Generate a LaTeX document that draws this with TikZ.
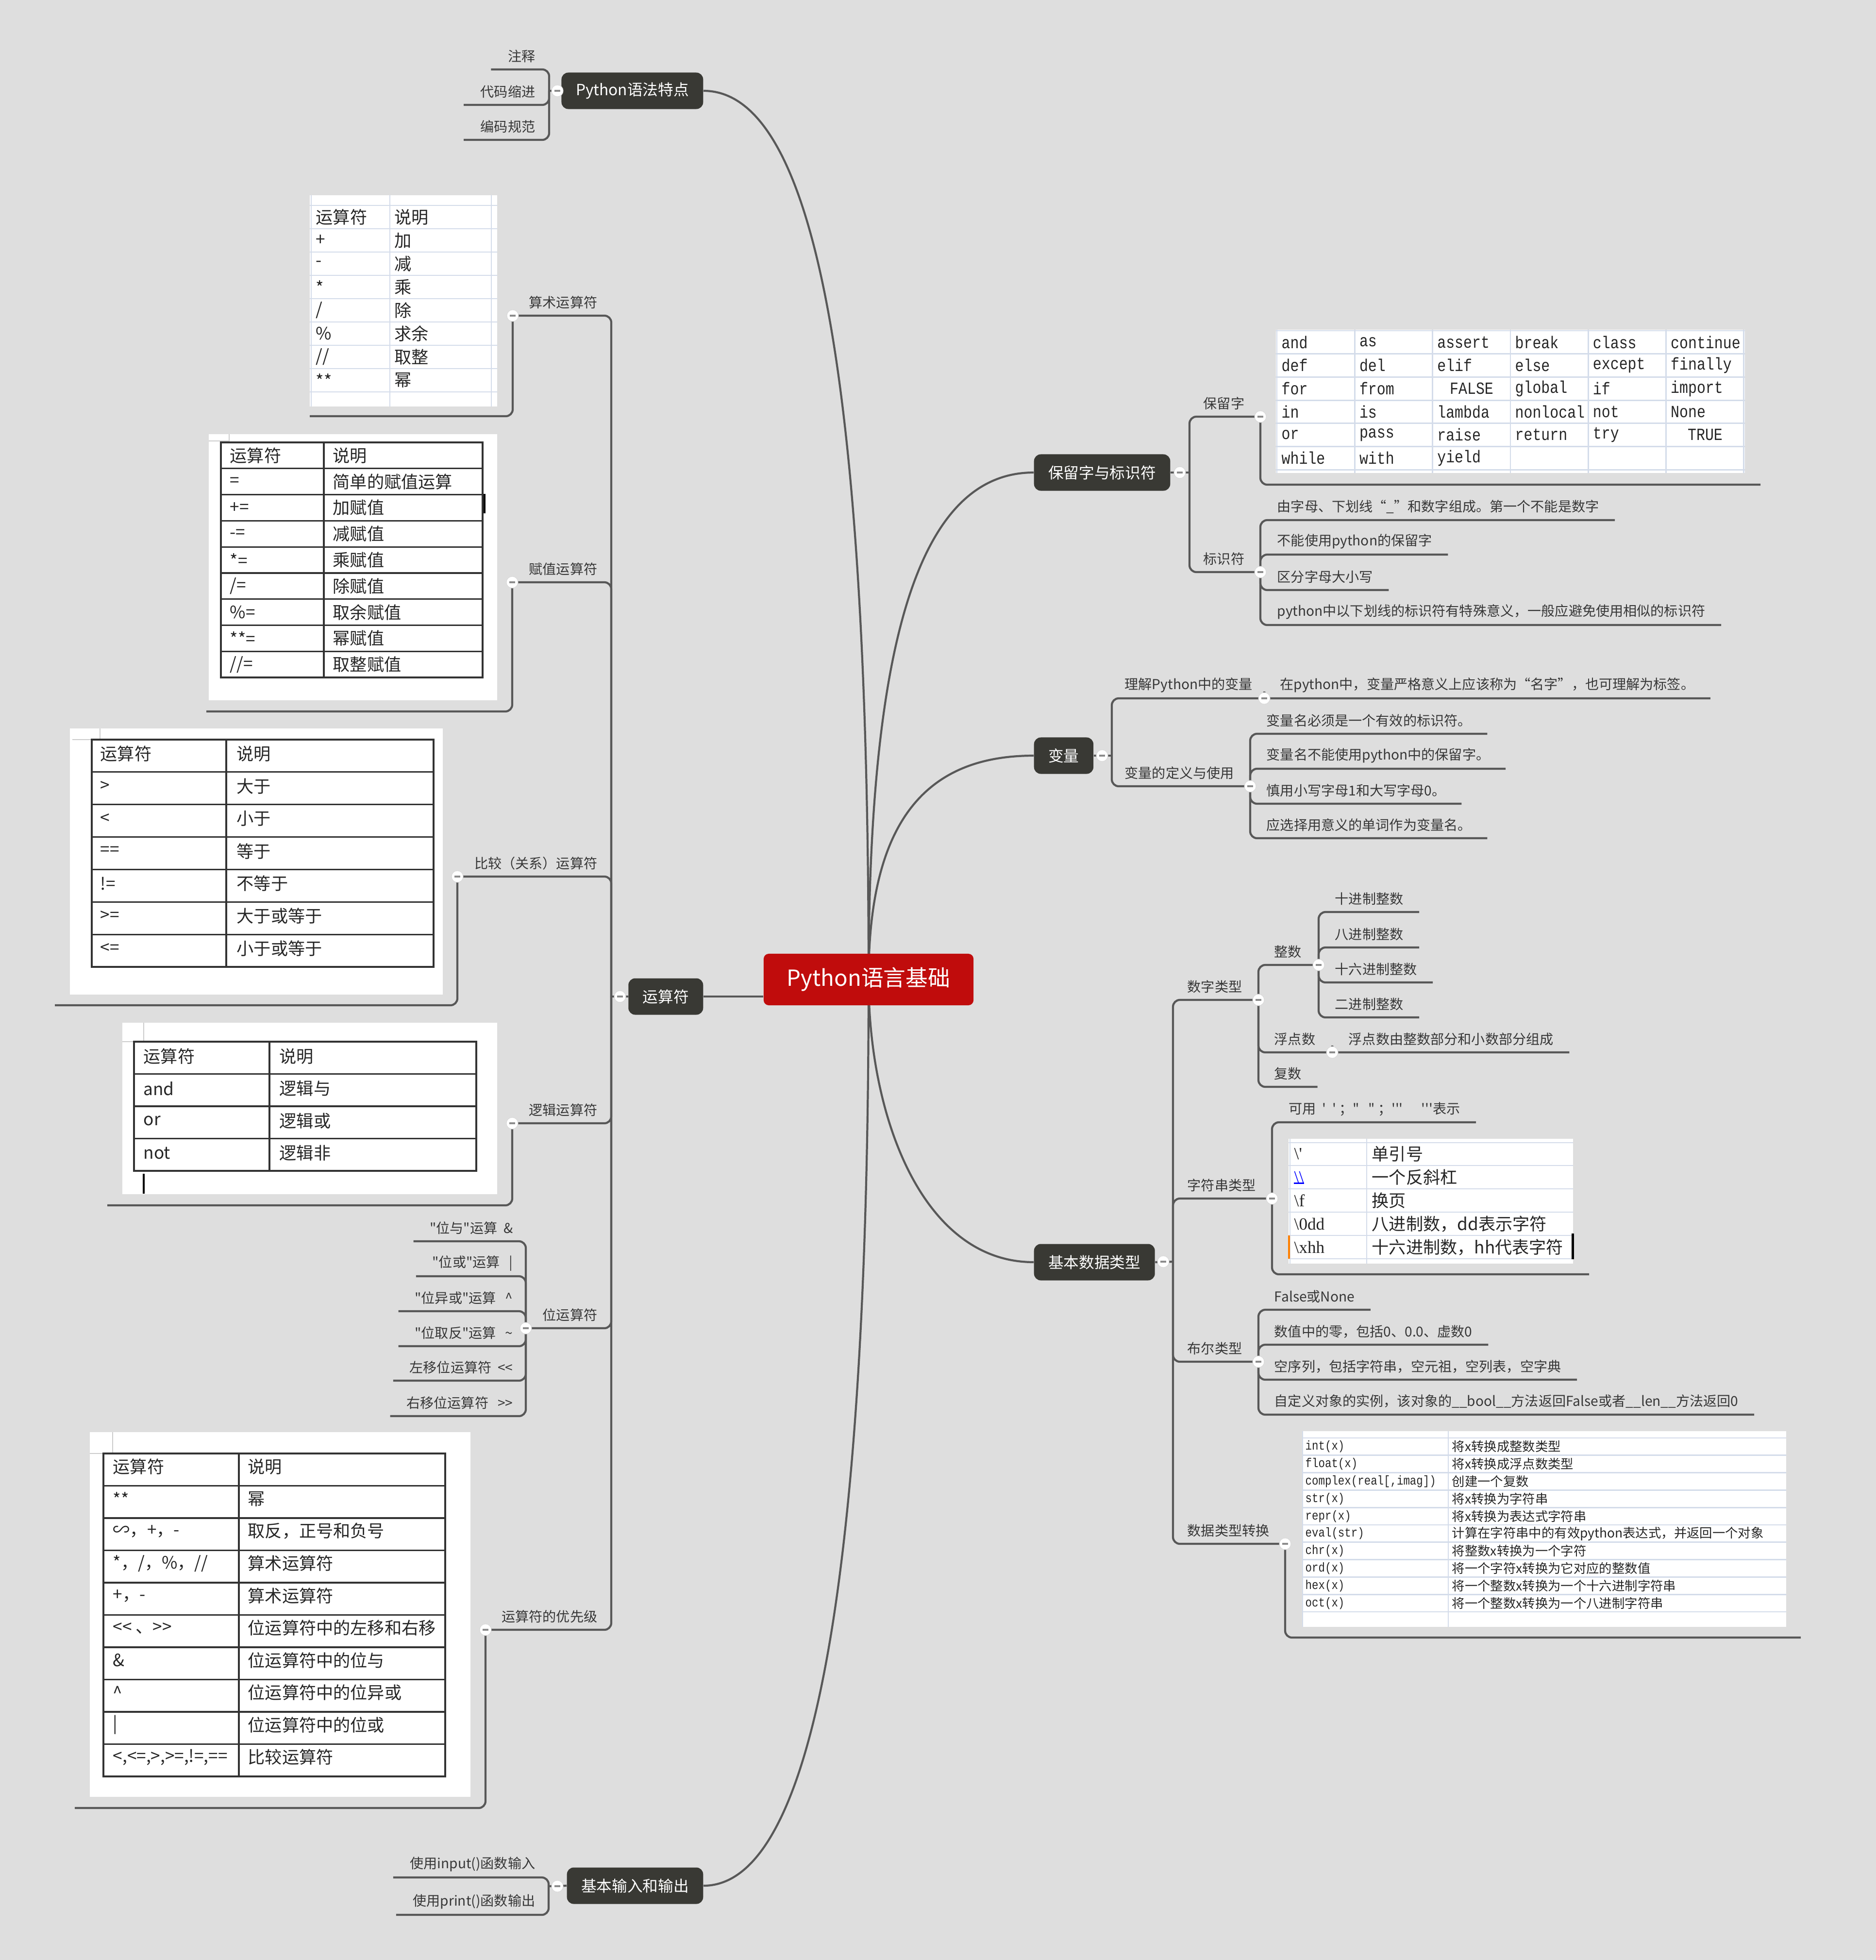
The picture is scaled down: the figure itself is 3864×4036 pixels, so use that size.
\documentclass[tikz,border=0pt]{standalone}
\usepackage{fontspec}
\newfontfamily\cjk{Noto Sans CJK SC}
\newfontfamily\kw[FakeStretch=0.85]{Liberation Mono}
\newfontfamily\sr{Liberation Serif}
\usetikzlibrary{calc}
\definecolor{bgcol}{RGB}{222,222,222}
\definecolor{linecol}{RGB}{88,88,88}
\definecolor{topiccol}{RGB}{57,57,52}
\definecolor{rootcol}{RGB}{192,12,12}
\definecolor{lblcol}{RGB}{55,55,55}
\definecolor{gridcol}{RGB}{212,220,234}
\pgfdeclarelayer{bg}
\pgfdeclarelayer{edges}
\pgfsetlayers{bg,edges,main}

\begin{document}
\begin{tikzpicture}[x=0.01cm,y=-0.01cm,
    br/.style={draw=linecol,line width=1.2pt,rounded corners=4pt},
    root/.style={fill=rootcol,text=white,rounded corners=3pt,minimum width=4.32cm,minimum height=1.06cm,font=\cjk\fontsize{13}{13}\selectfont},
    topic/.style={fill=topiccol,text=white,rounded corners=4pt,minimum height=0.75cm,inner xsep=8.4pt,font=\cjk\fontsize{9}{9}\selectfont},
    lbl/.style={text=lblcol,inner sep=0pt,font=\cjk\fontsize{8}{8}\selectfont},
    knob/.style={circle,fill=white,draw=black!15,line width=0.3pt,minimum size=0.24cm,inner sep=0pt,
      path picture={\draw[black!45,line width=0.9pt] ([xshift=-1.7pt]path picture bounding box.center) -- ([xshift=1.7pt]path picture bounding box.center);}},
    xgrid/.style={draw=gridcol,line width=0.8pt},
    bgrid/.style={draw=black!80,line width=0.9pt},
    cell/.style={anchor=west,inner sep=0pt,text=black!85,font=\cjk\fontsize{10}{10}\selectfont},
    kwcell/.style={anchor=west,inner sep=0pt,text=black!85,font=\kw\fontsize{10}{10}\selectfont},
    tick/.style={draw=black!20,line width=0.6pt},
    caret/.style={draw=black,line width=1.4pt}]
  \useasboundingbox (0,0) rectangle (3864,4036);
  \begin{pgfonlayer}{bg}
    \fill[bgcol] (0,0) rectangle (3864,4036);
  \end{pgfonlayer}

  % main topics
  \node[root] (root) at (1789,2017) {Python语言基础};
  \node[topic,anchor=east] (syntax) at (1449,187) {Python语法特点};
  \node[topic,anchor=east] (oper) at (1449,2052) {运算符};
  \node[topic,anchor=east] (io) at (1449,3883) {基本输入和输出};
  \node[topic,anchor=west] (reserve) at (2129,973) {保留字与标识符};
  \node[topic,anchor=west] (var) at (2129,1556) {变量};
  \node[topic,anchor=west] (dtype) at (2129,2599) {基本数据类型};

  \coordinate (jA) at (1131,187);
  \coordinate (jB) at (1259,2052);
  \coordinate (jC) at (1130,3884);
  \coordinate (jD) at (2450,973);
  \coordinate (jE) at (2290,1556);
  \coordinate (jF) at (2416,2598);

  % Python语法特点
  \node[lbl,anchor=east] (zhushi) at (1103,116) {注释};
  \node[lbl,anchor=east] (suojin) at (1103,189) {代码缩进};
  \node[lbl,anchor=east] (guifan) at (1103,261) {编码规范};

  % 运算符
  \node[lbl,anchor=east] (l-arith) at (1231,623) {算术运算符};
  \node[lbl,anchor=east] (l-assign) at (1231,1172) {赋值运算符};
  \node[lbl,anchor=east] (l-cmp) at (1231,1778) {比较（关系）运算符};
  \node[lbl,anchor=east] (l-logic) at (1231,2286) {逻辑运算符};
  \node[lbl,anchor=east] (l-bit) at (1231,2708) {位运算符};
  \node[lbl,anchor=east] (l-prec) at (1231,3329) {运算符的优先级};
  \node[lbl,anchor=east] (b1) at (1057,2529) {"位与"运算\ \ \&};
  \node[lbl,anchor=east] (b2) at (1057,2601) {"位或"运算\ \ \ |};
  \node[lbl,anchor=east] (b3) at (1057,2673) {"位异或"运算\ \ \ \textasciicircum};
  \node[lbl,anchor=east] (b4) at (1057,2745) {"位取反"运算\ \ \ \textasciitilde};
  \node[lbl,anchor=east] (b5) at (1057,2816) {左移位运算符\ \ <<};
  \node[lbl,anchor=east] (b6) at (1057,2889) {右移位运算符\ \ \ >>};
  \coordinate (arith-end) at (638,857);
  \coordinate (assign-end) at (425,1465);
  \coordinate (cmp-end) at (113,2070);
  \coordinate (logic-end) at (221,2482);
  \coordinate (prec-end) at (154,3723);

  % arithmetic table
  \fill[white] (638,402) rectangle (1024,837);
  \foreach \k in {0,...,8} \draw[xgrid] (638,{423+48*\k}) -- (1024,{423+48*\k});
  \foreach \x in {641,803,1012} \draw[xgrid] (\x,402) -- (\x,837);
  \foreach \a [count=\i from 0] in {运算符,+,-,*,/,\%,//,**}
    \node[cell] (ta\i) at (650,{447+48*\i}) {\a};
  \foreach \b [count=\i from 0] in {说明,加,减,乘,除,求余,取整,幂}
    \node[cell] (tb\i) at (812,{447+48*\i}) {\b};

  % assignment table
  \fill[white] (430,894) rectangle (1024,1442);
  \draw[tick] (430,908) -- (472,908) -- (472,894);
  \draw[bgrid] (455,911) rectangle (994,1395);
  \draw[bgrid] (667,911) -- (667,1395);
  \foreach \k in {1,...,8} \draw[bgrid] (455,{911+53.8*\k}) -- (994,{911+53.8*\k});
  \foreach \a [count=\i from 0] in {运算符,=,+=,-=,*=,/=,\%=,**=,//=}
    \node[cell] (sa\i) at (473,{938+53.8*\i}) {\a};
  \foreach \b [count=\i from 0] in {说明,简单的赋值运算,加赋值,减赋值,乘赋值,除赋值,取余赋值,幂赋值,取整赋值}
    \node[cell] (sb\i) at (685,{938+53.8*\i}) {\b};
  \draw[caret] (998,1017) -- (998,1057);

  % comparison table
  \fill[white] (144,1500) rectangle (912,2048);
  \draw[tick] (149,1523) -- (206,1523) -- (206,1500);
  \draw[bgrid] (189,1523) rectangle (893,1991);
  \draw[bgrid] (466,1523) -- (466,1991);
  \foreach \k in {1,...,6} \draw[bgrid] (189,{1523+66.86*\k}) -- (893,{1523+66.86*\k});
  \foreach \a [count=\i from 0] in {运算符,>,<,==,!=,>=,<=}
    \node[cell] (ca\i) at (206,{1552+66.86*\i}) {\a};
  \foreach \b [count=\i from 0] in {说明,大于,小于,等于,不等于,大于或等于,小于或等于}
    \node[cell] (cb\i) at (487,{1552+66.86*\i}) {\b};

  % logic table
  \fill[white] (252,2106) rectangle (1024,2459);
  \draw[tick] (252,2145) -- (296,2145) -- (296,2106);
  \draw[bgrid] (276,2145) rectangle (981,2411);
  \draw[bgrid] (555,2145) -- (555,2411);
  \foreach \k in {1,...,3} \draw[bgrid] (276,{2145+66.5*\k}) -- (981,{2145+66.5*\k});
  \foreach \a [count=\i from 0] in {运算符,and,or,not}
    \node[cell] (la\i) at (295,{2175+66.5*\i}) {\a};
  \foreach \b [count=\i from 0] in {说明,逻辑与,逻辑或,逻辑非}
    \node[cell] (lb\i) at (575,{2175+66.5*\i}) {\b};
  \draw[line width=1pt] (296,2417) -- (296,2458);

  % precedence table
  \fill[white] (185,2949) rectangle (969,3700);
  \draw[tick] (185,2993) -- (232,2993) -- (232,2949);
  \draw[bgrid] (213,2993) rectangle (917,3658);
  \draw[bgrid] (492,2993) -- (492,3658);
  \foreach \k in {1,...,9} \draw[bgrid] (213,{2993+66.5*\k}) -- (917,{2993+66.5*\k});
  \foreach \a [count=\i from 0] in {运算符,**,∽，+，-,*，/，\%，//,+，-,<< 、>>,\&,\textasciicircum,|,{<,<=,>,>=,!=,==}}
    \node[cell] (pa\i) at (232,{3020+66.5*\i}) {\a};
  \foreach \b [count=\i from 0] in {说明,幂,取反，正号和负号,算术运算符,算术运算符,位运算符中的左移和右移,位运算符中的位与,位运算符中的位异或,位运算符中的位或,比较运算符}
    \node[cell] (pb\i) at (510,{3020+66.5*\i}) {\b};

  % 基本输入和输出
  \node[lbl,anchor=east] (l-input) at (1103,3839) {使用input()函数输入};
  \node[lbl,anchor=east] (l-print) at (1103,3916) {使用print()函数输出};

  % 保留字与标识符
  \node[lbl,anchor=west] (l-kw) at (2478,831) {保留字};
  \node[lbl,anchor=west] (l-ident) at (2478,1151) {标识符};
  \node[lbl,anchor=west] (i1) at (2630,1044) {由字母、下划线“\_”和数字组成。第一个不能是数字};
  \node[lbl,anchor=west] (i2) at (2630,1115) {不能使用python的保留字};
  \node[lbl,anchor=west] (i3) at (2630,1188) {区分字母大小写};
  \node[lbl,anchor=west] (i4) at (2630,1260) {python中以下划线的标识符有特殊意义，一般应避免使用相似的标识符};
  \coordinate (kw-end) at (3626,998);
  \fill[white] (2628,679) rectangle (3594,974);
  \foreach \k in {0,...,6} {
    \draw[xgrid] (2628,{681+47.7*\k}) -- (3594,{681+47.7*\k});
    \draw[xgrid] ({2630+160.3*\k},679) -- ({2630+160.3*\k},974);
  }
  \foreach \row [count=\r from 0] in {{and,as,assert,break,class,continue},{def,del,elif,else,except,finally},{for,from,,global,if,import},{in,is,lambda,nonlocal,not,None},{or,pass,raise,return,try,},{while,with,yield,,,}}
    \foreach \w [count=\c from 0] in \row
      \node[kwcell] (kw-\r-\c) at ({2639+160.3*\c},{704.5+47.7*\r}) {\w};
  \node[kwcell,anchor=center] (kw-false) at (3031,800) {FALSE};
  \node[kwcell,anchor=center] (kw-true) at (3512,895) {TRUE};

  % 变量
  \node[lbl,anchor=west] (l-under) at (2316,1411) {理解Python中的变量};
  \node[lbl,anchor=west] (l-name) at (2636,1411) {在python中，变量严格意义上应该称为“名字”，也可理解为标签。};
  \node[lbl,anchor=west] (l-def) at (2316,1592) {变量的定义与使用};
  \node[lbl,anchor=west] (v1) at (2608,1484) {变量名必须是一个有效的标识符。};
  \node[lbl,anchor=west] (v2) at (2608,1556) {变量名不能使用python中的保留字。};
  \node[lbl,anchor=west] (v3) at (2608,1628) {慎用小写字母1和大写字母0。};
  \node[lbl,anchor=west] (v4) at (2608,1699) {应选择用意义的单词作为变量名。};

  % 基本数据类型
  \node[lbl,anchor=west] (l-num) at (2445,2032) {数字类型};
  \node[lbl,anchor=west] (l-int) at (2624,1960) {整数};
  \node[lbl,anchor=west] (n1) at (2749,1851) {十进制整数};
  \node[lbl,anchor=west] (n2) at (2749,1924) {八进制整数};
  \node[lbl,anchor=west] (n3) at (2749,1996) {十六进制整数};
  \node[lbl,anchor=west] (n4) at (2749,2068) {二进制整数};
  \node[lbl,anchor=west] (l-float) at (2624,2140) {浮点数};
  \node[lbl,anchor=west] (l-floatd) at (2777,2140) {浮点数由整数部分和小数部分组成};
  \node[lbl,anchor=west] (l-cplx) at (2624,2211) {复数};
  \node[lbl,anchor=west] (l-str) at (2445,2441) {字符串类型};
  \node[lbl,anchor=west] (l-quote) at (2654,2284) {可用\ \ '\ \ '\ ；"\ \ \ "\ ；'''\ \ \ \ \ \ '''表示};
  \node[lbl,anchor=west] (l-bool) at (2445,2777) {布尔类型};
  \node[lbl,anchor=west] (o1) at (2624,2670) {False或None};
  \node[lbl,anchor=west] (o2) at (2624,2742) {数值中的零，包括0、0.0、虚数0};
  \node[lbl,anchor=west] (o3) at (2624,2814) {空序列，包括字符串，空元祖，空列表，空字典};
  \node[lbl,anchor=west] (o4) at (2624,2886) {自定义对象的实例，该对象的\_\_bool\_\_方法返回False或者\_\_len\_\_方法返回0};
  \node[lbl,anchor=west] (l-conv) at (2445,3152) {数据类型转换};
  \coordinate (str-end) at (3273,2624);
  \coordinate (conv-end) at (3709,3372);

  % escape table
  \fill[white] (2654,2345) rectangle (3240,2602);
  \foreach \y in {2353,2400,2448,2496,2544,2592} \draw[xgrid] (2654,\y) -- (3240,\y);
  \foreach \x in {2657,2815} \draw[xgrid] (\x,2345) -- (\x,2602);
  \node[cell,font=\sr\fontsize{10}{10}\selectfont] (ea0) at (2665,2376) {\textbackslash'};
  \node[cell,font=\sr\fontsize{10}{10}\selectfont,text=blue] (ea1) at (2665,2424) {\textbackslash\textbackslash};
  \draw[blue,line width=0.6pt] (ea1.south west) -- (ea1.south east);
  \node[cell,font=\sr\fontsize{10}{10}\selectfont] (ea2) at (2665,2472) {\textbackslash f};
  \node[cell,font=\sr\fontsize{10}{10}\selectfont] (ea3) at (2665,2520) {\textbackslash 0dd};
  \node[cell,font=\sr\fontsize{10}{10}\selectfont] (ea4) at (2665,2568) {\textbackslash xhh};
  \foreach \b [count=\i from 0] in {单引号,一个反斜杠,换页,八进制数，dd表示字符,十六进制数，hh代表字符}
    \node[cell] (eb\i) at (2825,{2376+48*\i}) {\b};
  \draw[orange,line width=1pt] (2655,2544) -- (2655,2592);
  \draw[caret] (3239,2540) -- (3239,2593);

  % conversion table
  \fill[white] (2682,2947) rectangle (3679,3350);
  \foreach \k in {0,...,10} \draw[xgrid] (2682,{2961+35.8*\k}) -- (3679,{2961+35.8*\k});
  \foreach \x in {2683,2983} \draw[xgrid] (\x,2947) -- (\x,3350);
  \foreach \a [count=\i from 0] in {int(x),float(x),{complex(real[,imag])},str(x),repr(x),eval(str),chr(x),ord(x),hex(x),oct(x)}
    \node[kwcell,font=\kw\fontsize{7.5}{7.5}\selectfont] (fa\i) at (2688,{2979+35.8*\i}) {\a};
  \foreach \b [count=\i from 0] in {将x转换成整数类型,将x转换成浮点数类型,创建一个复数,将x转换为字符串,将x转换为表达式字符串,计算在字符串中的有效python表达式，并返回一个对象,将整数x转换为一个字符,将一个字符x转换为它对应的整数值,将一个整数x转换为一个十六进制字符串,将一个整数x转换为一个八进制字符串}
    \node[cell,font=\cjk\fontsize{7.5}{7.5}\selectfont] (fb\i) at (2990,{2979+35.8*\i}) {\b};

  % collapse knobs
  \node[knob] (k-syntax) at (1148,187) {};
  \node[knob] (k-oper) at (1277,2052) {};
  \node[knob] (k-io) at (1148,3884) {};
  \node[knob] (k-reserve) at (2430,973) {};
  \node[knob] (k-var) at (2270,1556) {};
  \node[knob] (k-dtype) at (2396,2598) {};
  \node[knob] (k-arith) at (1056,650) {};
  \node[knob] (k-assign) at (1055,1199) {};
  \node[knob] (k-cmp) at (942,1805) {};
  \node[knob] (k-logic) at (1055,2313) {};
  \node[knob] (k-bit) at (1083,2735) {};
  \node[knob] (k-prec) at (1000,3356) {};
  \node[knob] (k-kw) at (2596,858) {};
  \node[knob] (k-ident) at (2596,1178) {};
  \node[knob] (k-under) at (2604,1438) {};
  \node[knob] (k-def) at (2575,1619) {};
  \node[knob] (k-num) at (2592,2059) {};
  \node[knob] (k-int) at (2716,1987) {};
  \node[knob] (k-float) at (2744,2167) {};
  \node[knob] (k-str) at (2620,2468) {};
  \node[knob] (k-bool) at (2592,2804) {};
  \node[knob] (k-conv) at (2647,3179) {};

  \begin{pgfonlayer}{edges}
    % curves from the root
    \draw[br] (syntax.east) .. controls (1700,187) and (1789,900) .. (root.center);
    \draw[br] (reserve.west) .. controls (1900,973) and (1789,1300) .. (root.center);
    \draw[br] (var.west) .. controls (1900,1556) and (1789,1700) .. (root.center);
    \draw[br] (dtype.west) .. controls (1900,2599) and (1789,2300) .. (root.center);
    \draw[br] (io.east) .. controls (1700,3883) and (1789,3100) .. (root.center);
    \draw[br] (oper.east) -- (oper.east -| root.west);
    % left side
    \draw[br] (syntax.west) -- (jA);
    \foreach \n in {zhushi,suojin,guifan} \draw[br] (jA) |- ($(\n.west)+(-34,27)$);
    \draw[br] (oper.west) -- (jB);
    \foreach \n in {arith,assign,cmp,logic,bit,prec} \draw[br] (jB) |- (k-\n.center);
    \foreach \n in {arith,assign,cmp,logic,prec} \draw[br] (k-\n.center) |- (\n-end);
    \foreach \n in {b1,b2,b3,b4,b5,b6} \draw[br] (k-bit.center) |- ($(\n.west)+(-33,27)$);
    \draw[br] (io.west) -- (jC);
    \foreach \n in {l-input,l-print} \draw[br] (jC) |- ($(\n.west)+(-34,27)$);
    % right side
    \draw[br] (reserve.east) -- (jD);
    \foreach \n in {kw,ident} \draw[br] (jD) |- (k-\n.center);
    \draw[br] (k-kw.center) |- (kw-end);
    \foreach \n in {i1,i2,i3,i4} \draw[br] (k-ident.center) |- ($(\n.east)+(32,27)$);
    \draw[br] (var.east) -- (jE);
    \foreach \n in {under,def} \draw[br] (jE) |- (k-\n.center);
    \draw[br] (k-under.center) |- ($(l-name.east)+(32,27)$);
    \foreach \n in {v1,v2,v3,v4} \draw[br] (k-def.center) |- ($(\n.east)+(32,27)$);
    \draw[br] (dtype.east) -- (jF);
    \foreach \n in {num,str,bool,conv} \draw[br] (jF) |- (k-\n.center);
    \foreach \n in {int,float} \draw[br] (k-num.center) |- (k-\n.center);
    \draw[br] (k-num.center) |- ($(l-cplx.east)+(32,27)$);
    \foreach \n in {n1,n2,n3,n4} \draw[br] (k-int.center) |- ($(\n.east)+(32,27)$);
    \draw[br] (k-float.center) |- ($(l-floatd.east)+(32,27)$);
    \draw[br] (k-str.center) |- ($(l-quote.east)+(32,27)$);
    \draw[br] (k-str.center) |- (str-end);
    \foreach \n in {o1,o2,o3,o4} \draw[br] (k-bool.center) |- ($(\n.east)+(32,27)$);
    \draw[br] (k-conv.center) |- (conv-end);
  \end{pgfonlayer}
\end{tikzpicture}
\end{document}
